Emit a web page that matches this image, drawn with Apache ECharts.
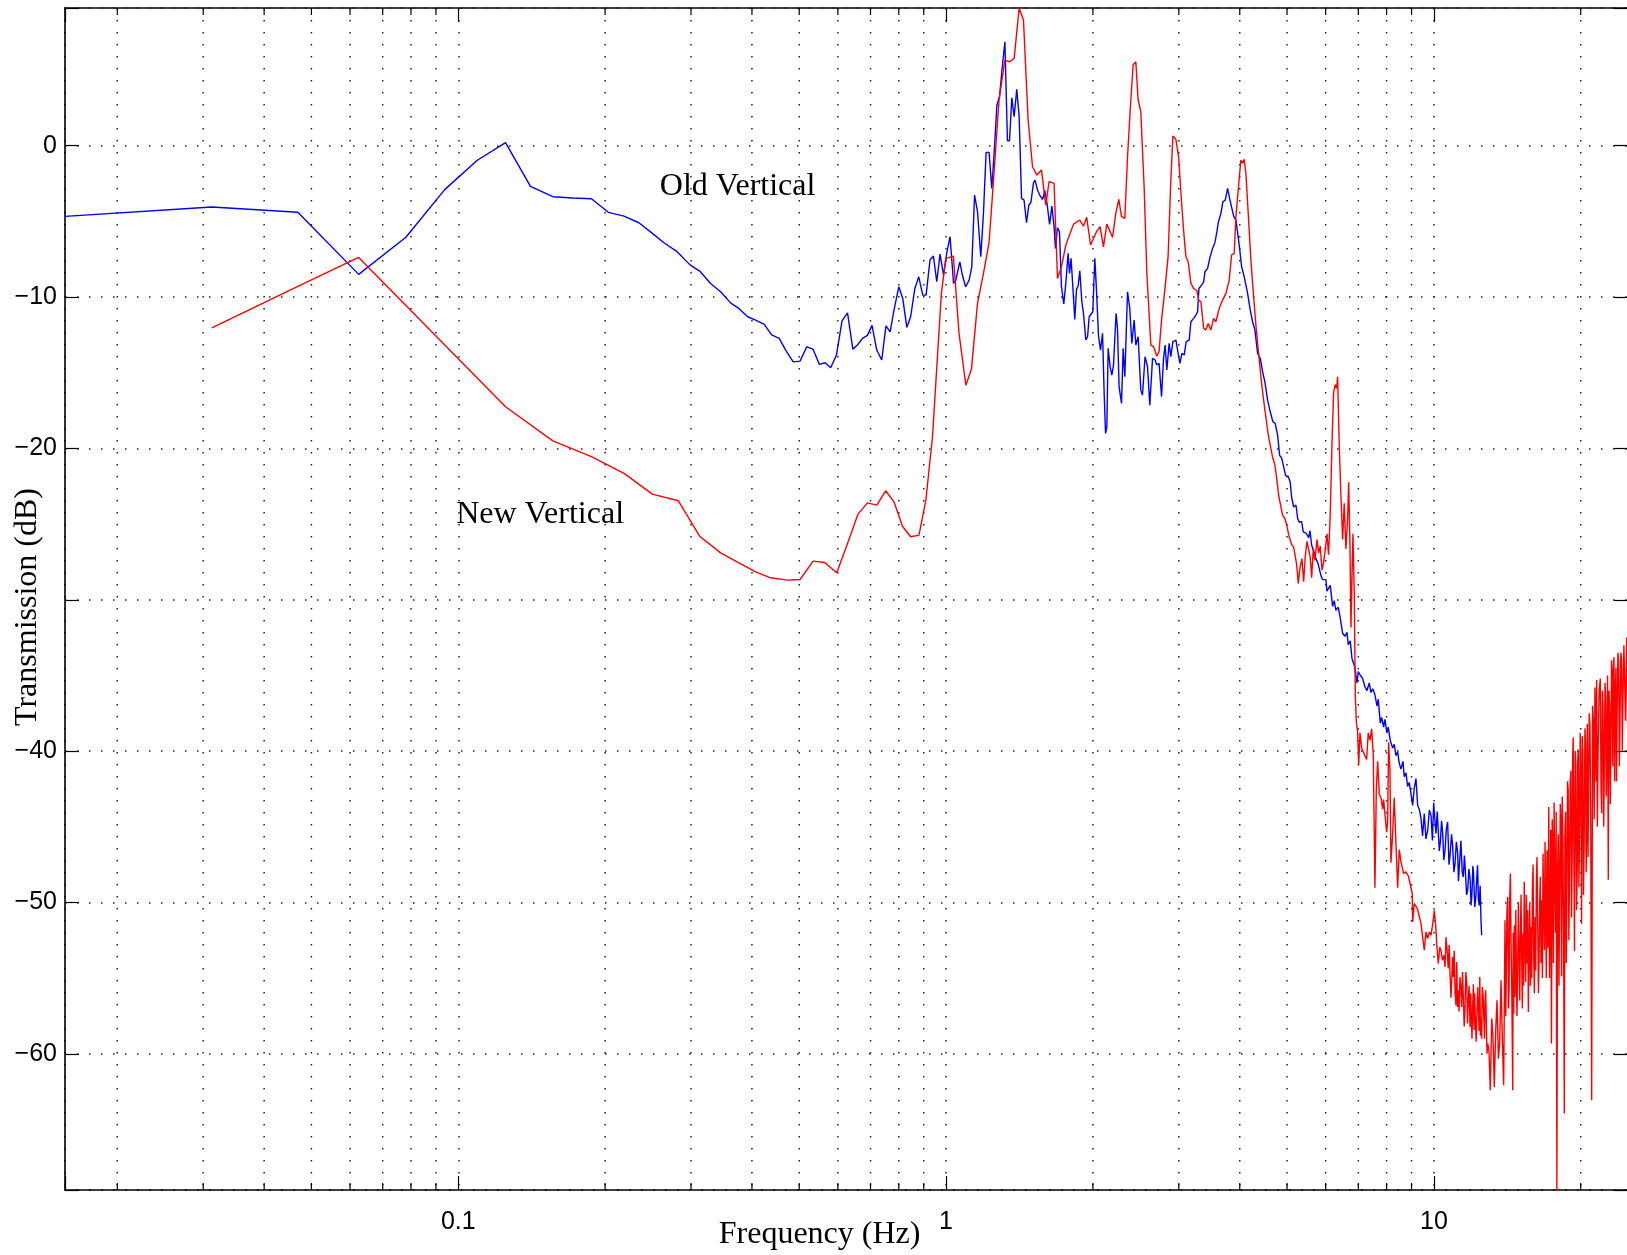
<!DOCTYPE html>
<html>
<head>
<meta charset="utf-8">
<title>Transmission (dB) vs Frequency (Hz)</title>
<script src="https://cdn.jsdelivr.net/npm/echarts@6.0.0/dist/echarts.min.js"></script>
<style>
  html, body { margin: 0; padding: 0; background: #fff; }
  #chart { width: 1627px; height: 1255px; }
</style>
</head>
<body>
<div id="chart"></div>
<script>
// Old vertical (blue): frequency in Hz, transmission in dB
const oldFreq = [
  0.015625, 0.03125, 0.0469, 0.0625, 0.0781, 0.0938, 0.1094, 0.125, 0.1406, 0.1563,
  0.1719, 0.1875, 0.2031, 0.2187, 0.2346, 0.25, 0.264, 0.281, 0.299, 0.3126,
  0.329, 0.345, 0.362, 0.376, 0.392, 0.407, 0.424, 0.439, 0.455, 0.469,
  0.486, 0.502, 0.518, 0.534, 0.550, 0.565, 0.580, 0.596, 0.612, 0.628,
  0.644, 0.658, 0.674, 0.690, 0.705, 0.721, 0.738, 0.753, 0.768, 0.782,
  0.800, 0.815, 0.831, 0.846, 0.863, 0.879, 0.896, 0.910, 0.927, 0.942,
  0.957, 0.972, 0.988, 1.003, 1.019, 1.036, 1.047, 1.067, 1.082, 1.097,
  1.115, 1.129, 1.144, 1.160, 1.178, 1.193, 1.208, 1.225, 1.241, 1.257,
  1.271, 1.287, 1.303, 1.320, 1.336, 1.349, 1.364, 1.379, 1.396, 1.412,
  1.428, 1.445, 1.462, 1.478, 1.492, 1.511, 1.522, 1.540, 1.559, 1.577,
  1.594, 1.611, 1.630, 1.648, 1.665, 1.676, 1.692, 1.708, 1.724, 1.743,
  1.762, 1.779, 1.791, 1.804, 1.819, 1.836, 1.851, 1.865, 1.880, 1.898,
  1.913, 1.934, 1.950, 1.965, 1.981, 1.999, 2.018, 2.034, 2.054, 2.073,
  2.093, 2.109, 2.123, 2.136, 2.149, 2.169, 2.187, 2.204, 2.231, 2.246,
  2.263, 2.289, 2.307, 2.325, 2.355, 2.380, 2.403, 2.430, 2.449, 2.476,
  2.507, 2.527, 2.558, 2.588, 2.616, 2.650, 2.682, 2.704, 2.733, 2.765,
  2.791, 2.812, 2.835, 2.866, 2.889, 2.917, 2.959, 2.983, 3.015, 3.044,
  3.077, 3.106, 3.151, 3.176, 3.217, 3.252, 3.278, 3.299, 3.341, 3.373,
  3.394, 3.437, 3.475, 3.519, 3.557, 3.591, 3.613, 3.660, 3.694, 3.735,
  3.777, 3.813, 3.849, 3.886, 3.928, 3.990, 4.035, 4.085, 4.151, 4.203,
  4.250, 4.297, 4.351, 4.406, 4.456, 4.504, 4.562, 4.619, 4.677, 4.728,
  4.783, 4.828, 4.874, 4.920, 4.967, 5.028, 5.076, 5.110, 5.159, 5.215,
  5.257, 5.297, 5.357, 5.398, 5.467, 5.537, 5.571, 5.616, 5.670, 5.731,
  5.794, 5.869, 5.915, 5.960, 6.008, 6.036, 6.074, 6.131, 6.200, 6.247,
  6.297, 6.366, 6.427, 6.500, 6.572, 6.634, 6.675, 6.738, 6.792, 6.847,
  6.890, 6.955, 6.998, 7.064, 7.145, 7.222, 7.291, 7.370, 7.430, 7.490,
  7.571, 7.643, 7.691, 7.764, 7.816, 7.888, 7.937, 8.012, 8.062, 8.138,
  8.231, 8.294, 8.361, 8.429, 8.493, 8.560, 8.641, 8.695, 8.765, 8.836,
  8.903, 8.975, 9.046, 9.115, 9.189, 9.263, 9.334,
  9.410, 9.48, 9.557, 9.63, 9.712, 9.79, 9.865, 9.93, 9.991, 10.05,
  10.10, 10.16, 10.21, 10.26, 10.31, 10.37, 10.42, 10.48, 10.54, 10.60,
  10.67, 10.74, 10.80, 10.87, 10.93, 10.99, 11.05, 11.12, 11.19, 11.23,
  11.27, 11.32, 11.36, 11.43, 11.49, 11.55, 11.60, 11.67, 11.73, 11.80,
  11.87, 11.92, 11.97, 12.02, 12.06, 12.13, 12.19, 12.24, 12.29, 12.34,
  12.39, 12.44, 12.49, 12.53
];
const oldDb = [
  -4.67, -4.05, -4.40, -8.50, -6.05, -2.90, -0.96, 0.20, -2.68, -3.37,
  -3.45, -3.50, -4.40, -4.65, -5.09, -5.79, -6.41, -7.00, -7.89, -8.28,
  -9.10, -9.65, -10.40, -10.75, -11.30, -11.52, -11.80, -12.50, -12.73, -13.50,
  -14.28, -14.23, -13.28, -13.46, -14.45, -14.34, -14.67, -13.83, -11.57, -11.04,
  -13.44, -13.17, -12.73, -12.53, -11.87, -13.50, -14.16, -11.90, -12.30, -10.86,
  -9.32, -10.09, -12.00, -11.30, -9.43, -8.66, -9.87, -9.87, -7.55, -7.29,
  -8.99, -7.16, -8.55, -7.11, -6.01, -9.10, -8.90, -7.67, -8.66, -9.32,
  -8.88, -8.00, -3.26, -4.36, -7.34, -4.47, -0.44, -0.44, -2.82, -0.07,
  2.69, 3.24, 5.12, 6.87, 0.33, 0.33, 3.17, 1.92, 3.73, 1.92,
  -3.48, -3.59, -5.09, -3.92, -3.77, -2.44, -2.27, -2.93, -3.32, -3.55,
  -2.97, -3.85, -5.20, -3.99, -5.35, -6.78, -5.42, -5.68, -9.32, -10.46,
  -8.88, -7.11, -8.43, -7.44, -9.32, -11.48, -9.49, -9.27, -8.26, -10.31,
  -11.08, -12.84, -12.62, -11.30, -11.19, -10.97, -7.44, -9.54, -12.62, -13.50,
  -12.40, -16.37, -19.01, -18.57, -13.39, -14.60, -15.16, -14.50, -11.08, -12.07,
  -15.93, -17.03, -13.39, -15.27, -9.65, -10.75, -13.06, -11.52, -13.17, -12.62,
  -16.15, -16.48, -13.94, -14.60, -17.14, -14.05, -14.16, -14.49, -14.38, -16.59,
  -14.05, -13.17, -14.82, -13.06, -13.94, -12.95, -12.84, -12.80, -14.38, -13.72,
  -13.83, -12.95, -12.84, -11.63, -11.41, -11.19, -10.97, -9.43, -9.21, -8.99,
  -8.33, -8.10, -7.38, -6.78, -6.41, -5.68, -5.09, -4.47, -3.70, -3.59,
  -2.82, -3.48, -3.59, -4.65, -4.91, -6.56, -8.00, -8.66, -9.76, -10.86,
  -11.63, -12.18, -13.72, -14.05, -14.94, -15.60, -16.81, -17.58, -18.24, -18.35,
  -19.12, -20.46, -20.63, -20.71, -21.80, -21.85, -22.23, -23.24, -23.87, -23.74,
  -24.63, -24.88, -24.83, -25.51, -25.59, -25.89, -25.44, -26.40, -26.78, -27.28,
  -27.66, -28.42, -28.67, -28.80, -28.67, -29.43, -29.30, -29.05, -30.44, -30.06,
  -30.70, -30.49, -31.20, -32.21, -32.41, -32.16, -32.97, -32.72, -33.86, -33.73,
  -34.49, -35.50, -34.74, -34.99, -35.20, -35.75, -36.00, -35.50, -36.13, -35.88,
  -36.26, -37.02, -36.57, -38.15, -37.78, -38.41, -37.90, -38.79, -38.41, -39.29,
  -39.80, -39.55, -40.30, -40.05, -40.81, -41.19, -40.68, -41.69, -41.44, -42.33,
  -42.07, -42.83, -43.59, -42.45, -41.82, -43.59, -43.84,
  -44.45, -45.60, -44.12, -45.80, -45.23, -43.90, -44.24, -45.90, -43.42, -44.60,
  -45.45, -44.00, -43.91, -46.60, -46.00, -44.60, -45.34, -47.20, -46.55, -45.20,
  -44.68, -47.50, -46.77, -45.50, -46.33, -48.00, -47.43, -46.00, -46.77, -48.60,
  -47.76, -46.80, -45.93, -48.00, -48.31, -46.90, -47.87, -49.50, -49.19, -47.80,
  -48.53, -50.20, -49.41, -47.60, -48.09, -50.30, -49.64, -48.50, -47.54, -49.80,
  -50.19, -48.90, -51.18, -52.17
];

// New vertical (red)
const newFreq = [
  0.03125, 0.0469, 0.0625, 0.125, 0.1563, 0.1875, 0.2187, 0.25, 0.2826, 0.3125,
  0.345, 0.373, 0.407, 0.437, 0.473, 0.502, 0.534, 0.564, 0.597, 0.628,
  0.660, 0.690, 0.721, 0.752, 0.782, 0.814, 0.846, 0.880, 0.909, 0.938,
  0.960, 0.978, 0.999, 1.035, 1.063, 1.098, 1.127, 1.160, 1.193, 1.225,
  1.254, 1.284, 1.320, 1.351, 1.379, 1.412, 1.441, 1.473, 1.504, 1.535,
  1.569, 1.601, 1.626, 1.665, 1.692, 1.724, 1.760, 1.825, 1.880, 1.913,
  1.942, 1.978, 2.034, 2.069, 2.102, 2.136, 2.194, 2.228, 2.260, 2.289,
  2.325, 2.355, 2.385, 2.418, 2.449, 2.476, 2.507, 2.547, 2.580, 2.629,
  2.663, 2.704, 2.733, 2.765, 2.808, 2.852, 2.889, 2.917, 2.959, 2.997,
  3.029, 3.068, 3.102, 3.136, 3.176, 3.217, 3.268, 3.294, 3.330, 3.373,
  3.409, 3.446, 3.490, 3.535, 3.574, 3.630, 3.689, 3.747, 3.806, 3.849,
  3.897, 3.928, 3.960, 3.990, 4.021, 4.054, 4.085, 4.118, 4.163, 4.216,
  4.270, 4.317, 4.372, 4.434, 4.504, 4.562, 4.597, 4.670, 4.722, 4.767,
  4.806, 4.858, 4.897, 4.950, 4.997, 5.051, 5.110, 5.159, 5.198, 5.232,
  5.272, 5.314, 5.364, 5.408, 5.449, 5.493, 5.537, 5.578, 5.616, 5.659,
  5.705, 5.759, 5.805, 5.849, 5.896, 5.943, 5.989, 6.036, 6.083, 6.131,
  6.180, 6.230, 6.277, 6.318, 6.349, 6.397, 6.449, 6.500, 6.549, 6.602,
  6.655, 6.688, 6.728, 6.761, 6.792, 6.825, 6.868, 6.900, 6.933, 6.978,
  7.012, 7.055, 7.111, 7.165, 7.222, 7.280, 7.336, 7.395, 7.455, 7.512,
  7.571, 7.620, 7.669, 7.727, 7.790, 7.852, 7.888, 7.948, 8.001, 8.040,
  8.077, 8.128, 8.166, 8.231, 8.294, 8.361, 8.429, 8.493, 8.560, 8.670,
  8.765, 8.870, 9.030, 9.046, 9.115, 9.250, 9.334, 9.410, 9.484, 9.557,
  9.634, 9.712, 9.786, 9.865,
  9.959, 10.02, 10.09, 10.15, 10.21, 10.28, 10.34, 10.41, 10.48, 10.54,
  10.59, 10.64, 10.70, 10.75, 10.79, 10.84, 10.88, 10.92, 10.96, 11.01,
  11.05, 11.10, 11.14, 11.18, 11.22, 11.26, 11.31, 11.35, 11.40, 11.45,
  11.49, 11.54, 11.58, 11.63, 11.68, 11.72, 11.76, 11.81, 11.86, 11.90,
  11.93, 11.97, 12.01, 12.05, 12.09, 12.12, 12.16, 12.21, 12.26, 12.30,
  12.34, 12.38, 12.42, 12.46, 12.49, 12.53, 12.57, 12.62, 12.66, 12.70,
  12.73, 12.77, 12.81, 12.85, 12.89, 12.97, 13.05, 13.14, 13.22, 13.30,
  13.39, 13.47, 13.56, 13.64, 13.73, 13.81, 13.90, 13.99, 14.04, 14.08,
  14.12, 14.17, 14.22, 14.26, 14.30, 14.35, 14.40, 14.44, 14.51, 14.54,
  14.58, 14.62, 14.67, 14.72, 14.76, 14.80, 14.85, 14.90, 14.95, 15.00,
  15.04, 15.09, 15.14, 15.18, 15.23, 15.27, 15.32, 15.37, 15.42, 15.47,
  15.52, 15.57, 15.62, 15.67, 15.72, 15.77, 15.82, 15.87, 15.92, 15.97,
  16.02, 16.07, 16.12, 16.17, 16.22, 16.27, 16.33, 16.38, 16.43, 16.48,
  16.53, 16.58, 16.64, 16.69, 16.74, 16.80, 16.85, 16.90, 16.95, 17.00,
  17.06, 17.13, 17.20, 17.26, 17.32, 17.36, 17.39, 17.42, 17.48, 17.53,
  17.58, 17.64, 17.70, 17.76, 17.81, 17.87, 17.93, 17.99, 18.05, 18.10,
  18.16, 18.22, 18.25, 18.28, 18.33, 18.39, 18.45, 18.51, 18.56, 18.62,
  18.68, 18.73, 18.79, 18.85, 18.91, 18.97, 19.03, 19.09, 19.15, 19.21,
  19.25, 19.30, 19.36, 19.42, 19.48, 19.55, 19.61, 19.68, 19.72, 19.77,
  19.83, 19.89, 19.95, 20.01, 20.05, 20.08, 20.14, 20.20, 20.26, 20.33,
  20.40, 20.46, 20.52, 20.59, 20.61, 20.63, 20.70, 20.76, 20.82, 20.89,
  20.97, 21.06, 21.15, 21.23, 21.31, 21.39, 21.45, 21.51, 21.54, 21.56,
  21.63, 21.71, 21.82, 21.94, 22.01, 22.08, 22.15, 22.22, 22.29, 22.36,
  22.43, 22.50, 22.56, 22.63, 22.70, 22.78, 22.85, 22.92, 23.00, 23.07,
  23.13, 23.20, 23.27, 23.33, 23.40, 23.47, 23.55, 23.62, 23.68, 23.75,
  23.84, 23.92, 24.00, 24.07, 24.17, 24.26, 24.33, 24.41, 24.52, 24.64,
  24.71, 24.79, 24.85, 24.90, 24.95, 25.00
];
const newDb = [
  -12.04, -9.30, -7.38, -17.25, -19.50, -20.54, -21.65, -23.02, -23.46, -25.80,
  -26.90, -27.50, -28.16, -28.55, -28.70, -28.66, -27.45, -27.54, -28.22, -26.28,
  -24.34, -23.60, -23.75, -22.80, -23.53, -25.14, -25.84, -25.73, -23.42, -19.23,
  -13.95, -9.76, -7.44, -7.29, -12.40, -15.82, -14.78, -10.42, -8.43, -6.41,
  -1.83, 3.02, 5.66, 5.55, 5.77, 9.08, 8.31, 1.70, -1.39, -1.94,
  -1.61, -3.92, -2.38, -2.49, -8.77, -8.00, -6.56, -5.18, -4.91, -5.31,
  -4.73, -6.56, -5.68, -5.35, -6.68, -5.18, -6.05, -4.47, -3.54, -4.69,
  -4.80, -0.73, 2.36, 5.33, 5.55, 3.02, 2.25, -2.71, -8.43, -13.17,
  -13.28, -13.90, -13.60, -11.52, -9.54, -7.34, -2.27, 0.64, 0.42, -0.73,
  -3.04, -5.57, -7.34, -7.67, -9.10, -9.43, -9.58, -10.20, -10.31, -12.07,
  -12.18, -11.74, -12.18, -11.41, -11.63, -10.75, -10.20, -9.76, -8.88, -7.22,
  -7.11, -4.69, -4.58, -2.15, -0.95, -1.16, -0.90, -1.83, -4.47, -7.55,
  -9.98, -11.85, -13.72, -15.71, -17.47, -18.80, -19.45, -20.58, -21.09, -22.10,
  -23.11, -23.87, -24.42, -24.63, -25.13, -25.84, -26.35, -26.52, -26.45, -27.66,
  -28.93, -27.91, -27.28, -28.80, -27.16, -26.14, -26.02, -27.16, -28.55, -26.65,
  -27.41, -26.02, -26.90, -26.45, -28.04, -27.53, -26.65, -25.64, -27.03, -24.37,
  -19.82, -16.28, -15.78, -16.03, -15.27, -19.82, -23.11, -26.02, -23.62, -26.65,
  -24.63, -22.23, -26.14, -31.83, -28.67, -25.64, -29.68, -36.26, -38.03, -38.79,
  -40.94, -38.79, -39.80, -40.05, -39.92, -40.56, -38.79, -39.29, -38.53, -40.30,
  -49.03, -42.58, -40.68, -42.83, -43.08, -43.84, -43.21, -44.35, -45.36, -44.60,
  -39.42, -41.31, -47.38, -45.49, -43.08, -46.12, -49.03, -46.50, -47.32, -48.09,
  -47.98, -48.27, -49.41, -51.29, -50.07, -50.40, -50.30, -51.40, -51.29, -53.16,
  -51.95, -52.39, -51.95, -52.17,
  -51.29, -50.52, -51.62, -53.05, -54.04, -52.94, -53.16, -53.82, -53.49, -54.26,
  -52.30, -53.05, -54.37, -52.80, -54.59, -56.30, -55.25, -53.60, -54.92, -53.20,
  -55.91, -56.80, -53.93, -56.90, -55.80, -57.20, -54.92, -55.40, -56.91, -54.60,
  -56.25, -58.20, -57.13, -54.60, -55.36, -58.00, -56.58, -55.50, -58.23, -56.00,
  -57.46, -59.00, -56.91, -55.40, -58.45, -56.00, -57.57, -59.20, -57.01, -55.60,
  -57.13, -58.50, -54.92, -58.80, -57.57, -59.00, -55.58, -56.20, -57.67, -59.00,
  -56.69, -55.80, -58.00, -60.00, -59.32, -59.77, -62.41, -57.67, -58.89, -62.19,
  -58.45, -56.46, -60.32, -59.32, -55.14, -58.89, -62.08, -51.18, -57.50, -54.48,
  -50.50, -49.64, -57.00, -55.80, -50.00, -48.09, -53.00, -55.36, -62.41, -52.00,
  -57.34, -51.50, -56.25, -50.50, -54.15, -57.50, -54.92, -50.00, -53.16, -56.50,
  -52.39, -49.50, -53.82, -57.00, -52.05, -55.50, -48.64, -52.50, -55.25, -49.50,
  -54.04, -50.50, -57.24, -53.00, -50.07, -55.50, -51.62, -55.00, -49.19, -47.50,
  -53.60, -56.00, -50.96, -54.50, -48.75, -47.00, -51.84, -56.00, -53.60, -50.00,
  -48.31, -54.00, -49.85, -55.00, -46.77, -51.00, -53.16, -46.00, -49.85, -55.00,
  -46.55, -53.00, -43.70, -55.00, -50.96, -45.20, -52.00, -59.32, -44.50, -46.00,
  -54.00, -43.40, -49.00, -52.00, -44.00, -69.00, -48.00, -45.50, -55.50, -50.00,
  -43.50, -44.50, -51.50, -54.90, -43.00, -46.00, -53.00, -63.95, -45.50, -44.00,
  -54.00, -50.00, -42.00, -42.50, -52.50, -48.00, -42.00, -41.30, -51.00, -47.00,
  -40.50, -39.10, -46.00, -53.20, -40.00, -41.00, -50.50, -47.50, -40.50, -39.90,
  -49.00, -45.00, -38.80, -41.50, -46.00, -51.40, -39.00, -40.00, -49.50, -46.00,
  -38.50, -39.50, -48.00, -44.00, -40.00, -38.20, -47.00, -42.50, -37.50, -38.30,
  -45.00, -63.07, -37.00, -38.00, -44.50, -35.80, -40.00, -42.00, -37.00, -35.30,
  -45.00, -40.00, -36.00, -35.20, -42.50, -44.10, -36.00, -37.00, -45.00, -41.00,
  -35.50, -36.50, -43.00, -40.00, -35.00, -48.50, -36.00, -37.00, -43.50, -39.00,
  -34.00, -35.00, -41.00, -34.50, -33.80, -42.00, -36.00, -34.50, -42.00, -37.50,
  -33.50, -34.00, -41.00, -38.00, -33.50, -34.00, -40.00, -36.50, -33.00, -32.90,
  -38.00, -34.50, -32.50, -33.20, -38.50, -36.20
];

// minor log grid positions (2..9 x decade)
const minorGridFreq = [
  0.02, 0.03, 0.04, 0.05, 0.06, 0.07, 0.08, 0.09,
  0.2, 0.3, 0.4, 0.5, 0.6, 0.7, 0.8, 0.9,
  2, 3, 4, 5, 6, 7, 8, 9,
  20
];

// text annotations placed in data coordinates
const noteFreq = [0.259, 0.099];
const noteDb = [-2.72, -24.35];
const noteText = ["Old Vertical", "New Vertical"];

const hiddenYLabels = [-30];

const SANS = '"Liberation Sans", Arial, Helvetica, sans-serif';
const SERIF = '"Liberation Serif", "Times New Roman", serif';
const DOTS = [1.5, 10.5];

function pairs(xs, ys) {
  return xs.map((x, i) => [x, ys[i]]);
}

function decadeLabel(v) {
  const p = Math.log10(v);
  if (Math.abs(p - Math.round(p)) > 1e-6) return "";
  return String(Math.round(v * 1000) / 1000);
}

function dbLabel(v) {
  if (Math.abs(v % 10) > 1e-6 || hiddenYLabels.includes(v)) return "";
  return v < 0 ? "\u2212" + Math.abs(v) : String(v);
}

// dotted minor grid line plus short inward ticks at top and bottom
function renderMinorGrid(params, api) {
  const x = api.coord([api.value(0), 0])[0];
  const cs = params.coordSys;
  const top = cs.y;
  const bottom = cs.y + cs.height;
  return {
    type: "group",
    children: [
      { type: "line", shape: { x1: x, y1: top, x2: x, y2: bottom },
        style: { stroke: "#222", lineWidth: 1.5, lineDash: DOTS } },
      { type: "line", shape: { x1: x, y1: bottom, x2: x, y2: bottom - 7 },
        style: { stroke: "#000", lineWidth: 1.2 } },
      { type: "line", shape: { x1: x, y1: top, x2: x, y2: top + 7 },
        style: { stroke: "#000", lineWidth: 1.2 } },
    ],
  };
}

function renderNote(params, api) {
  const pt = api.coord([api.value(0), api.value(1)]);
  return {
    type: "text",
    x: pt[0],
    y: pt[1],
    style: {
      text: noteText[params.dataIndex],
      fontSize: 32,
      fontFamily: SERIF,
      fill: "#000",
      align: "left",
      verticalAlign: "middle",
    },
  };
}

const frameLine = { show: true, onZero: false, lineStyle: { color: "#000", width: 1.6 } };
const majorTick = { show: true, inside: true, length: 14, lineStyle: { color: "#000", width: 1.2 } };
const gridDots = { show: true, lineStyle: { color: "#222", width: 1.5, type: DOTS } };

const xBase = { type: "log", logBase: 10, min: 0.015625, max: 25 };
const yBase = { type: "value", min: -69, max: 9.1, splitNumber: 8 };

const chart = echarts.init(document.getElementById("chart"), null, { renderer: "canvas" });

chart.setOption({
  animation: false,
  backgroundColor: "#fff",
  grid: { left: 65, top: 8, width: 1563, height: 1182, containLabel: false, outerBoundsMode: "none" },
  xAxis: [
    {
      ...xBase,
      position: "bottom",
      axisLine: frameLine,
      axisTick: majorTick,
      axisLabel: { formatter: decadeLabel, margin: 20, fontSize: 25, fontFamily: SANS, color: "#000", hideOverlap: false },
      splitLine: gridDots,
    },
    {
      ...xBase,
      position: "top",
      axisLine: frameLine,
      axisTick: majorTick,
      axisLabel: { show: false },
      splitLine: { show: false },
    },
  ],
  yAxis: [
    {
      ...yBase,
      position: "left",
      axisLine: frameLine,
      axisTick: majorTick,
      axisLabel: { formatter: dbLabel, margin: 8, fontSize: 25, fontFamily: SANS, color: "#000", hideOverlap: false },
      splitLine: gridDots,
    },
    {
      ...yBase,
      position: "right",
      axisLine: frameLine,
      axisTick: majorTick,
      axisLabel: { show: false },
      splitLine: { show: false },
    },
  ],
  series: [
    {
      type: "custom",
      name: "minor grid",
      data: minorGridFreq.map((f) => [f, 0]),
      renderItem: renderMinorGrid,
      silent: true,
      z: 1,
    },
    {
      type: "line",
      name: "Old Vertical",
      data: pairs(oldFreq, oldDb),
      symbol: "none",
      showSymbol: false,
      lineStyle: { color: "#0000ff", width: 1.4 },
      itemStyle: { color: "#0000ff" },
      z: 3,
    },
    {
      type: "line",
      name: "New Vertical",
      data: pairs(newFreq, newDb),
      symbol: "none",
      showSymbol: false,
      lineStyle: { color: "#ff0000", width: 1.4 },
      itemStyle: { color: "#ff0000" },
      z: 4,
    },
    {
      type: "custom",
      name: "notes",
      data: noteFreq.map((f, i) => [f, noteDb[i]]),
      renderItem: renderNote,
      silent: true,
      z: 5,
    },
  ],
  graphic: [
    {
      type: "text",
      x: 819.6,
      y: 1235,
      style: { text: "Frequency (Hz)", fontSize: 32, fontFamily: SERIF, fill: "#000", align: "center", verticalAlign: "middle" },
    },
    {
      type: "text",
      x: 27.5,
      y: 607,
      rotation: Math.PI / 2,
      style: { text: "Transmission (dB)", fontSize: 32, fontFamily: SERIF, fill: "#000", align: "center", verticalAlign: "middle" },
    },
  ],
});
</script>
</body>
</html>
